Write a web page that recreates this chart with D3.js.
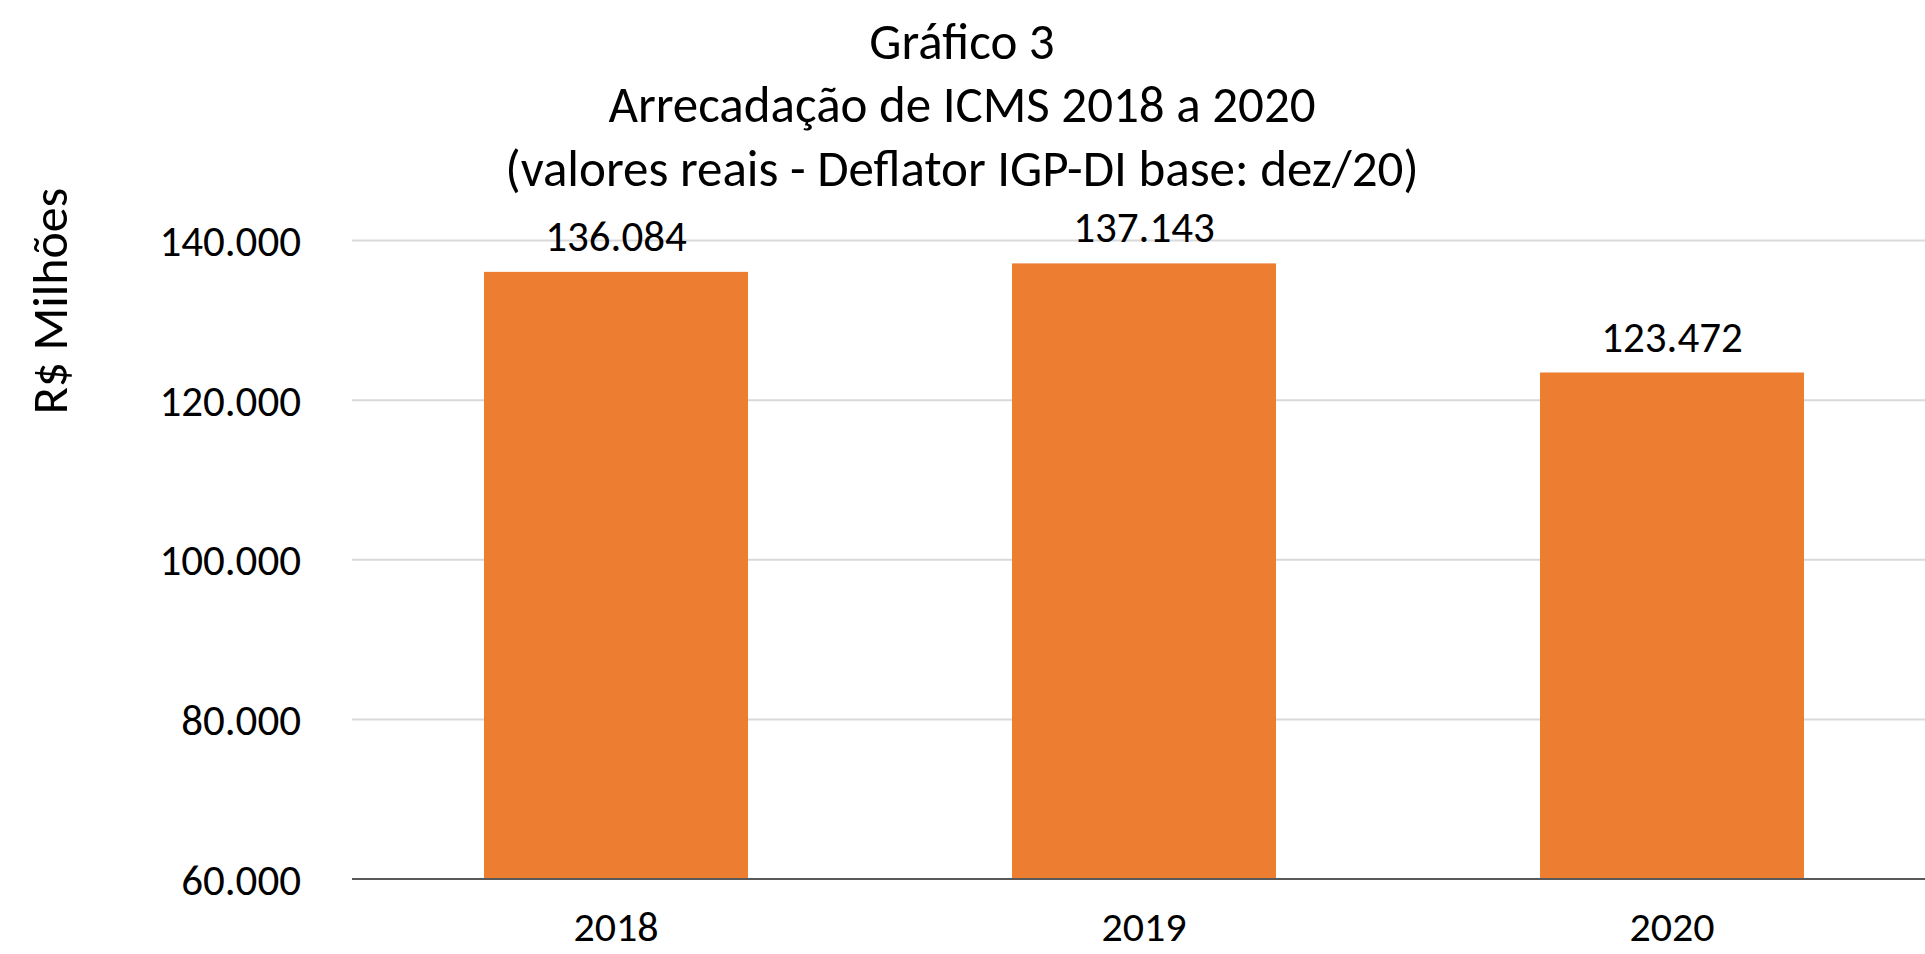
<!DOCTYPE html>
<html>
<head>
<meta charset="utf-8">
<script src="https://cdn.jsdelivr.net/npm/d3@7"></script>
<style>
	body { margin: 0; background: #fff; overflow: hidden; }
	text { font-family: Carlito, Calibri, Lato, sans-serif; fill: #000; }
</style>
</head>
<body>
<svg class="graph" width="1925" height="954"></svg>
<script>
//chart values
var years = ["2018", "2019", "2020"];
var arrecadacao = [136084, 137143, 123472];
var yTicks = [60000, 80000, 100000, 120000, 140000];
var titleLines = ["Gráfico 3", "Arrecadação de ICMS 2018 a 2020", "(valores reais - Deflator IGP-DI base: dez/20)"];
var yTitle = "R$ Milhões";

var width = 1925,
	height = 954;

//plot area, runs a bit past the right edge like the original
var plot = {left: 352, right: 1936, top: 240.6, bottom: 879};

var svg = d3.select(".graph");

var x = d3.scaleBand()
	.domain(years)
	.range([plot.left, plot.right])
	.paddingInner(0.5)
	.paddingOuter(0.25);

var y = d3.scaleLinear()
	.domain([60000, 140000])
	.range([plot.bottom, plot.top]);

//brazilian number format, dot as thousands separator
var fmt = d3.formatLocale({decimal: ",", thousands: ".", grouping: [3], currency: ["R$", ""]}).format(",.0f");

//gridlines
svg.append("g")
	.selectAll("line")
	.data(yTicks.slice(1))
	.enter()
	.append("line")
	.attr("x1", plot.left)
	.attr("x2", width)
	.attr("y1", function (d) { return y(d); })
	.attr("y2", function (d) { return y(d); })
	.attr("stroke", "#d9d9d9")
	.attr("stroke-width", 2);

//y axis labels
var yAxis = svg.append("g")
	.attr("transform", "translate(" + (plot.left - 51) + ",0)")
	.call(d3.axisLeft(y).tickValues(yTicks).tickFormat(fmt).tickSize(0).tickPadding(0));

yAxis.select(".domain").remove();
yAxis.selectAll("text")
	.attr("font-size", "43px")
	.attr("dy", "0.35em")
	.style("font-family", "Carlito, Calibri, Lato, sans-serif");

//bars
svg.append("g")
	.selectAll("rect")
	.data(arrecadacao)
	.enter()
	.append("rect")
	.attr("x", function (d, i) { return x(years[i]); })
	.attr("y", function (d) { return y(d); })
	.attr("width", x.bandwidth())
	.attr("height", function (d) { return y(60000) - y(d); })
	.attr("fill", "#ed7d31");

//baseline
svg.append("line")
	.attr("x1", plot.left)
	.attr("x2", width)
	.attr("y1", y(60000))
	.attr("y2", y(60000))
	.attr("stroke", "#595959")
	.attr("stroke-width", 2);

//value labels above the bars
svg.append("g")
	.selectAll("text")
	.data(arrecadacao)
	.enter()
	.append("text")
	.attr("x", function (d, i) { return x(years[i]) + x.bandwidth() / 2; })
	.attr("y", function (d) { return y(d) - 36; })
	.attr("dy", "0.35em")
	.attr("text-anchor", "middle")
	.attr("font-size", "43px")
	.text(function (d) { return fmt(d); });

//x axis labels, kept inside the bottom edge
var xAxis = svg.append("g")
	.attr("transform", "translate(0," + (plot.bottom + 47) + ")")
	.call(d3.axisBottom(x).tickSize(0).tickPadding(0));

xAxis.select(".domain").remove();
xAxis.selectAll("text")
	.attr("font-size", "42px")
	.attr("dy", "0.35em")
	.style("font-family", "Carlito, Calibri, Lato, sans-serif");

//title
svg.append("g")
	.selectAll("text")
	.data(titleLines)
	.enter()
	.append("text")
	.attr("x", 962)
	.attr("y", function (d, i) { return 41 + i * 63.5; })
	.attr("dy", "0.35em")
	.attr("text-anchor", "middle")
	.attr("font-size", "51px")
	.text(function (d) { return d; });

//y title
svg.append("text")
	.attr("transform", "translate(49,301) rotate(-90)")
	.attr("dy", "0.35em")
	.attr("text-anchor", "middle")
	.attr("font-size", "50px")
	.text(yTitle);
</script>
</body>
</html>
